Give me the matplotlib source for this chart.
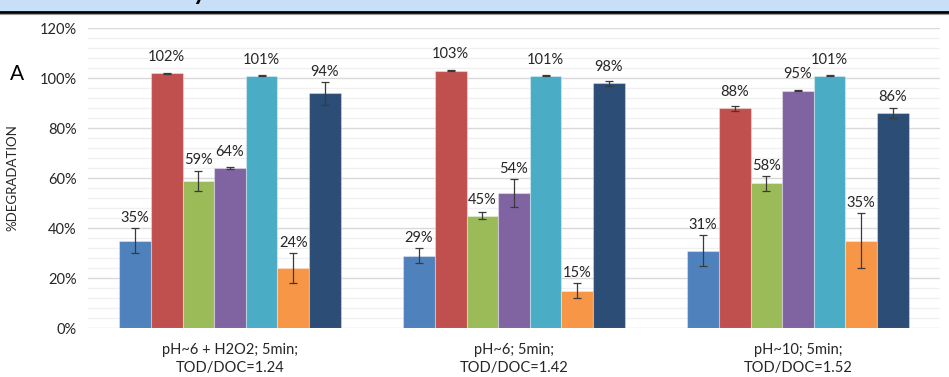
"""Grouped bar chart of %degradation for three treatment conditions."""

import matplotlib.pyplot as plt
from matplotlib.lines import Line2D
from matplotlib.patches import Rectangle
from matplotlib.ticker import MultipleLocator, FuncFormatter
import numpy as np

plt.rcParams['font.family'] = ['Lato', 'DejaVu Sans']

# Treatment conditions along the x axis
conditions = [
    "pH~6 + H2O2; 5min;\nTOD/DOC=1.24",
    "pH~6; 5min;\nTOD/DOC=1.42",
    "pH~10; 5min;\nTOD/DOC=1.52",
]

# Seven compounds per condition: mean degradation (%) and error (%)
degradation = [
    [35, 102, 59, 64, 101, 24, 94],
    [29, 103, 45, 54, 101, 15, 98],
    [31, 88, 58, 95, 101, 35, 86],
]
errors = [
    [5.0, 0.2, 4.0, 0.5, 0.2, 6.0, 4.6],
    [3.0, 0.3, 1.5, 5.5, 0.2, 3.0, 1.0],
    [6.3, 1.0, 3.0, 0.3, 0.2, 11.0, 2.0],
]
colors = ["#4f81bd", "#c0504d", "#9bbb59", "#8064a2", "#4bacc6", "#f79646", "#2c4d75"]

fig = plt.figure(figsize=(9.49, 3.77), dpi=100)

# header band along the top edge
fig.patches.append(Rectangle((0, 1 - 11 / 377), 1, 11 / 377, transform=fig.transFigure,
                             facecolor="#c7e0f8", edgecolor="none", zorder=0))
fig.lines.append(Line2D([0, 1], [1 - 12 / 377, 1 - 12 / 377], transform=fig.transFigure,
                        color="black", linewidth=2.0))
fig.lines.append(Line2D([0, 1], [1 - 14 / 377, 1 - 14 / 377], transform=fig.transFigure,
                        color="#9a9a9a", linewidth=0.8))
fig.text(200 / 949, 1.0, "y", fontsize=18, fontweight="bold", va="baseline", ha="center")

ax = fig.add_axes([88 / 949, 1 - 328 / 377, 852 / 949, 300 / 377])

n_bars = len(colors)
width = 0.78 / n_bars
x = np.arange(len(conditions))
vals = np.array(degradation)
errs = np.array(errors)

for i in range(n_bars):
    pos = x + (i - (n_bars - 1) / 2) * width
    ax.bar(pos, vals[:, i], width, color=colors[i], edgecolor=(1, 1, 1, 0.35),
           linewidth=0.8, zorder=3)
    ax.errorbar(pos, vals[:, i], yerr=errs[:, i], fmt="none", ecolor="#3a3a3a",
                elinewidth=0.9, capsize=3, capthick=0.9, zorder=4)
    for p, v, e in zip(pos, vals[:, i], errs[:, i]):
        y_lab = max(v + 3.6, v + e + 1.2)
        ax.text(p, y_lab, f"{v}%", ha="center", va="bottom", fontsize=10.5, color="#262626")

ax.set_xlim(-0.5, len(conditions) - 0.5)
ax.set_ylim(0, 120)
ax.yaxis.set_major_locator(MultipleLocator(20))
ax.yaxis.set_minor_locator(MultipleLocator(4))
ax.yaxis.set_major_formatter(FuncFormatter(lambda v, _: f"{v:.0f}%"))
ax.grid(which="major", axis="y", color="#d9d9d9", linewidth=1.0, zorder=0)
ax.grid(which="minor", axis="y", color="#f0f0f0", linewidth=1.0, zorder=0)
ax.set_axisbelow(True)

ax.set_xticks(x)
ax.set_xticklabels(conditions, fontsize=10.5, color="#262626", linespacing=1.3)
ax.tick_params(axis="x", length=0, pad=11)
ax.tick_params(axis="y", which="both", length=0, pad=8, labelsize=10.5, labelcolor="#262626")
for side in ["top", "right", "left", "bottom"]:
    ax.spines[side].set_visible(False)

ax.set_ylabel("%DEGRADATION", fontsize=9.5, color="#262626")
ax.yaxis.set_label_coords(-0.082, 0.5)

fig.text(17 / 949, 1 - 74 / 377, "A", fontsize=15, ha="center", va="center")

fig.savefig("out.png", dpi=100)
